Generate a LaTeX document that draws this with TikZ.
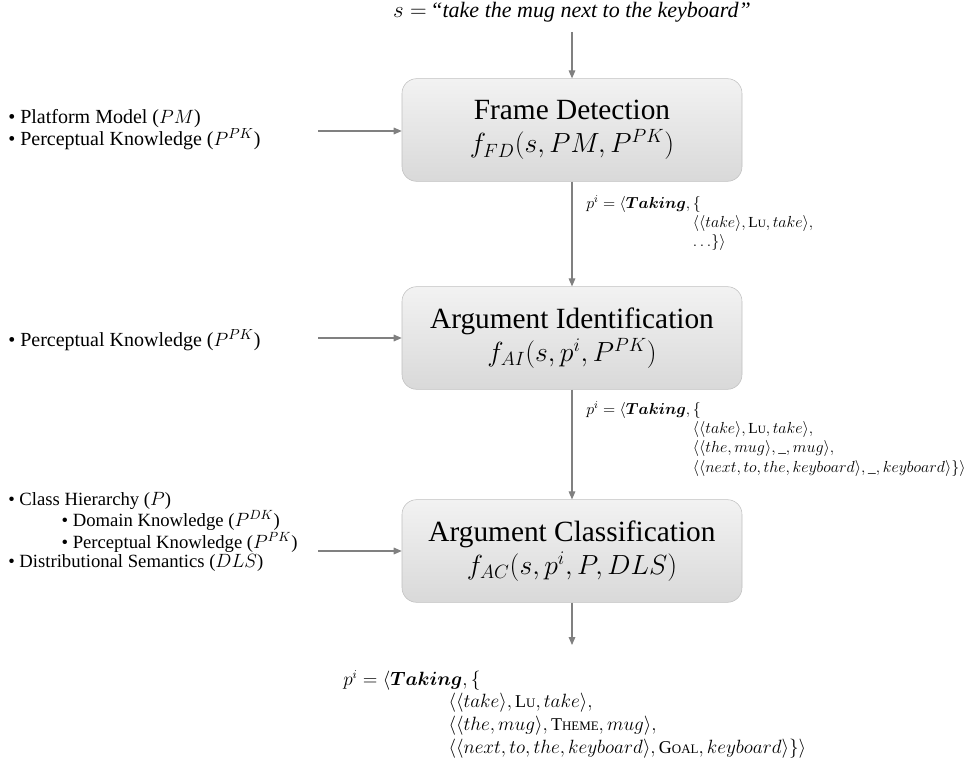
\documentclass[tikz,border=0pt]{standalone}
\usepackage{fontspec}
\setmainfont{Liberation Serif}
\usepackage{bm}
\usepackage{graphicx}
\usetikzlibrary{arrows.meta}
\newcommand{\fsc}[2]{\mbox{#1\scalebox{0.72}{#2}}}
\newcommand{\frm}[1]{\bm{#1}}
\begin{document}
\begin{tikzpicture}[x=0.75pt,y=-0.75pt,
    stage/.style={draw=gray!50, rounded corners=11pt, top color=gray!10, bottom color=gray!30,
        minimum width=255pt, minimum height=77pt, align=center, font=\fontsize{22}{27}\selectfont},
    flow/.style={-{Triangle[length=6pt,width=5pt]}, draw=black!50, line width=0.8pt},
    inputs/.style={anchor=west, align=left, inner sep=0pt},
    frame/.style={anchor=north west, align=left, inner sep=0pt}]
    \useasboundingbox (0,0) rectangle (980,767);

    % Sentence
    \node (sent) at (572,12) {\fontsize{16.5}{18}\selectfont $s=$\,\textit{``take the mug next to the keyboard''}};
    \coordinate (sentend) at (572,32);

    % Stages
    \node[stage] (fd) at (572,130) {Frame Detection\\[-2pt] \fontsize{20}{24}\selectfont$f_{FD}(s,PM,P^{PK})$};
    \node[stage] (ai) at (572,338) {Argument Identification\\[-2pt] \fontsize{20}{24}\selectfont$f_{AI}(s,p^i,P^{PK})$};
    \node[stage] (ac) at (572,551) {Argument Classification\\[-2pt] \fontsize{20}{24}\selectfont$f_{AC}(s,p^i,P,DLS)$};

    % Inputs
    \node[inputs, font=\fontsize{15}{16.5}\selectfont] (in1) at (8,130)
        {\textbullet\ Platform Model ($PM$)\\ \textbullet\ Perceptual Knowledge ($P^{PK}$)};
    \node[inputs, font=\fontsize{15}{16.5}\selectfont] (in2) at (8,340)
        {\textbullet\ Perceptual Knowledge ($P^{PK}$)};
    \node[inputs, font=\fontsize{14}{14.8}\selectfont] (in3) at (8,532)
        {\textbullet\ Class Hierarchy ($P$)\\
         \hspace*{40pt}\textbullet\ Domain Knowledge ($P^{DK}$)\\
         \hspace*{40pt}\textbullet\ Perceptual Knowledge ($P^{PK}$)\\
         \textbullet\ Distributional Semantics ($DLS$)};
    \coordinate (in1end) at (318,131);
    \coordinate (in2end) at (318,338);
    \coordinate (in3end) at (318,551);

    % Frames
    \node[frame, font=\fontsize{11.5}{14.5}\selectfont] (p1) at (586,195)
        {$p^i=\langle\frm{Taking},\{$\\
         \hspace*{80pt}$\big\langle\langle take\rangle,\fsc{L}{U},take\big\rangle,$\\
         \hspace*{80pt}$\ldots\}\rangle$};
    \node[frame, font=\fontsize{11.5}{14.5}\selectfont] (p2) at (586,401)
        {$p^i=\langle\frm{Taking},\{$\\
         \hspace*{80pt}$\big\langle\langle take\rangle,\fsc{L}{U},take\big\rangle,$\\
         \hspace*{80pt}$\big\langle\langle the,mug\rangle,\mbox{\_},mug\big\rangle,$\\
         \hspace*{80pt}$\big\langle\langle next,to,the,keyboard\rangle,\mbox{\_},keyboard\big\rangle\}\rangle$};
    \node[frame, font=\fontsize{13.5}{17}\selectfont] (p3) at (343,670)
        {$p^i=\langle\frm{Taking},\{$\\
         \hspace*{79pt}$\big\langle\langle take\rangle,\fsc{L}{U},take\big\rangle,$\\
         \hspace*{79pt}$\big\langle\langle the,mug\rangle,\fsc{T}{HEME},mug\big\rangle,$\\
         \hspace*{79pt}$\big\langle\langle next,to,the,keyboard\rangle,\fsc{G}{OAL},keyboard\big\rangle\}\rangle$};
    \coordinate (outend) at (572,645);

    % Arrows
    \draw[flow] (sentend) -- (fd);
    \draw[flow] (fd) -- (ai);
    \draw[flow] (ai) -- (ac);
    \draw[flow] (ac) -- (outend);
    \draw[flow] (in1end) -- (in1end -| fd.west);
    \draw[flow] (in2end) -- (in2end -| ai.west);
    \draw[flow] (in3end) -- (in3end -| ac.west);
\end{tikzpicture}
\end{document}
